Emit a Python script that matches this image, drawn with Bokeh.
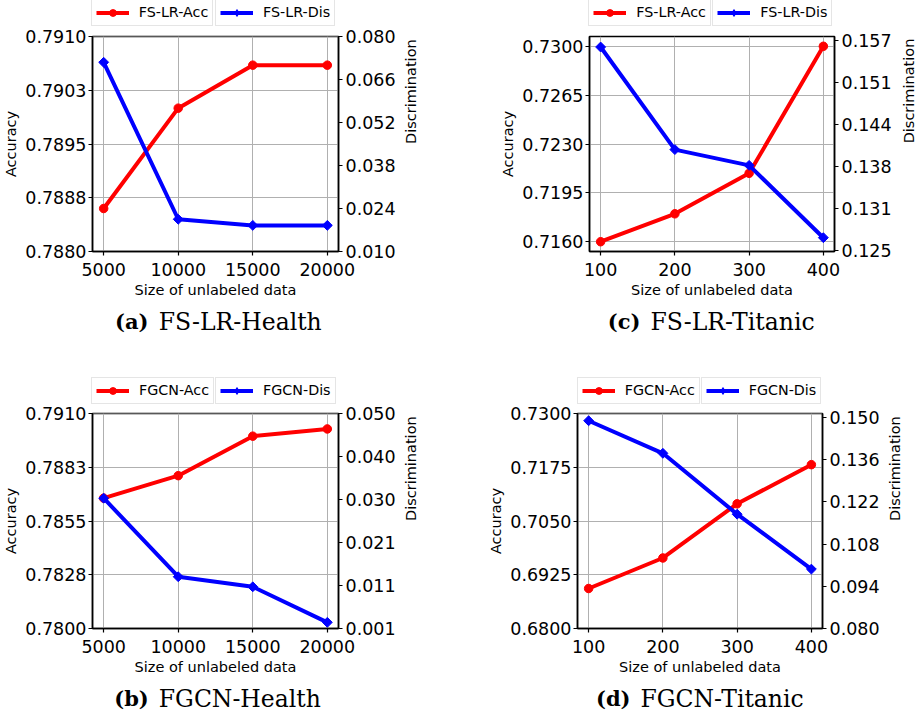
from bokeh.plotting import figure
from bokeh.models import (Range1d, LinearAxis, FixedTicker, CustomJSTickFormatter,
                          Legend, LegendItem, Label)
from bokeh.layouts import column, row
from bokeh.embed import file_html
from bokeh.resources import INLINE
import math

# ---------------- data ----------------
x_health = [5000, 10000, 15000, 20000]
x_titanic = [100, 200, 300, 400]

a_acc = [0.7886, 0.7900, 0.7906, 0.7906]
a_dis = [0.0716, 0.0205, 0.0185, 0.0185]
c_acc = [0.7160, 0.7180, 0.7209, 0.7300]
c_dis = [0.1560, 0.1404, 0.1380, 0.1270]
b_acc = [0.78667, 0.78782, 0.78984, 0.79021]
b_dis = [0.0307, 0.0128, 0.0105, 0.0024]
d_acc = [0.6893, 0.6964, 0.7090, 0.7181]
d_dis = [0.1489, 0.1381, 0.1179, 0.0997]

a_left_ticks = [0.788, 0.78875, 0.7895, 0.79025, 0.791]
a_left_labels = ["0.7880", "0.7888", "0.7895", "0.7903", "0.7910"]
a_right_ticks = [0.010, 0.024, 0.038, 0.052, 0.066, 0.080]
a_right_labels = ["0.010", "0.024", "0.038", "0.052", "0.066", "0.080"]

c_left_ticks = [0.716, 0.7195, 0.723, 0.7265, 0.730]
c_left_labels = ["0.7160", "0.7195", "0.7230", "0.7265", "0.7300"]
c_right_ticks = [0.125, 0.1314, 0.1378, 0.1442, 0.1506, 0.157]
c_right_labels = ["0.125", "0.131", "0.138", "0.144", "0.151", "0.157"]

b_left_ticks = [0.780, 0.78275, 0.7855, 0.78825, 0.791]
b_left_labels = ["0.7800", "0.7828", "0.7855", "0.7883", "0.7910"]
b_right_ticks = [0.001, 0.0108, 0.0206, 0.0304, 0.0402, 0.050]
b_right_labels = ["0.001", "0.011", "0.021", "0.030", "0.040", "0.050"]

d_left_ticks = [0.680, 0.6925, 0.705, 0.7175, 0.730]
d_left_labels = ["0.6800", "0.6925", "0.7050", "0.7175", "0.7300"]
d_right_ticks = [0.080, 0.094, 0.108, 0.122, 0.136, 0.150]
d_right_labels = ["0.080", "0.094", "0.108", "0.122", "0.136", "0.150"]

FONT = "DejaVu Sans"
TICK_FS = "17.5px"
LAB_FS = "14.5px"
RED = "#ff0000"
BLUE = "#0000ff"
W = 458


def fmt(vals, labels):
    return CustomJSTickFormatter(args=dict(vals=vals, labels=labels), code="""
        let best = 0;
        for (let i = 0; i < vals.length; i++) {
            if (Math.abs(vals[i] - tick) < Math.abs(vals[best] - tick)) best = i;
        }
        return labels[best];
    """)


def style_axis(ax):
    ax.axis_line_color = "black"
    ax.axis_line_width = 1.5
    ax.major_tick_in = 0
    ax.major_tick_out = 4
    ax.major_tick_line_width = 1.2
    ax.minor_tick_line_color = None
    ax.major_label_text_font = FONT
    ax.major_label_text_font_size = TICK_FS
    ax.major_label_text_color = "black"
    ax.axis_label_text_font = FONT
    ax.axis_label_text_font_size = LAB_FS
    ax.axis_label_text_font_style = "normal"
    ax.axis_label_text_color = "black"


def blank(h, w=W):
    f = figure(width=w, height=h, output_backend="svg", toolbar_location=None,
               x_range=Range1d(0, 1), y_range=Range1d(0, 1),
               x_axis_location=None, y_axis_location=None,
               min_border=0, min_border_left=0, min_border_right=0,
               min_border_top=0, min_border_bottom=0)
    f.outline_line_color = None
    f.background_fill_color = "white"
    f.border_fill_color = "white"
    f.xgrid.visible = False
    f.ygrid.visible = False
    return f


def add_legends(f, names, xs, acc, dis, xs_pos, y_pos):
    # legend proxies: the series themselves, which fall outside this strip's ranges
    l1 = f.line(xs, acc, line_color=RED, line_width=4)
    m1 = f.scatter(xs, acc, marker="circle", size=8.5, fill_color=RED, line_color=RED)
    l2 = f.line(xs, dis, line_color=BLUE, line_width=4)
    m2 = f.scatter(xs, dis, marker="diamond", size=11,
                   fill_color=BLUE, line_color=BLUE)
    for name, rends, xp in [(names[0], [l1, m1], xs_pos[0]), (names[1], [l2, m2], xs_pos[1])]:
        lg = Legend(items=[LegendItem(label=name, renderers=rends)],
                    location=(xp, y_pos),
                    orientation="horizontal",
                    border_line_color="#cccccc", border_line_width=1,
                    background_fill_color="white", background_fill_alpha=1.0,
                    padding=4, spacing=0, margin=0,
                    label_standoff=10, glyph_width=33, glyph_height=17,
                    label_height=17,
                    label_text_font=FONT, label_text_font_size="14.3px",
                    label_text_color="black")
        f.add_layout(lg, "center")


def add_caption(f, letter, title, gap_l, gap_r, y):
    f.add_layout(Label(x=gap_l, y=y, x_units="screen", y_units="screen", text=letter,
                       text_font="DejaVu Serif", text_font_style="bold",
                       text_font_size="21px", text_align="right",
                       text_baseline="alphabetic", text_color="black"))
    f.add_layout(Label(x=gap_r, y=y, x_units="screen", y_units="screen", text=title,
                       text_font="DejaVu Serif", text_font_size="23.5px",
                       text_align="left", text_baseline="alphabetic",
                       text_color="black"))


def panel(xs, acc, dis, xr, yl, yr, xticks, lt, ll, rt, rl, height, borders,
          width=W, right_label=True):
    left, right, top, bottom = borders
    eps = 1e-9
    p = figure(width=width, height=height, output_backend="svg", toolbar_location=None,
               x_range=Range1d(*xr), y_range=Range1d(yl[0] - eps, yl[1] + eps),
               min_border_left=left, min_border_right=right,
               min_border_top=top, min_border_bottom=bottom)
    p.extra_y_ranges = {"r": Range1d(yr[0] - eps, yr[1] + eps)}
    p.background_fill_color = "white"
    p.border_fill_color = "white"
    p.outline_line_color = "black"
    p.outline_line_width = 1.5

    xt = FixedTicker(ticks=xticks)
    p.xaxis.ticker = xt
    p.xaxis.axis_label = "Size of unlabeled data"
    p.xaxis.major_label_standoff = 7
    p.xaxis.axis_label_standoff = 3
    style_axis(p.xaxis[0])

    lax = p.yaxis[0]
    ltk = FixedTicker(ticks=lt)
    lax.ticker = ltk
    lax.formatter = fmt(lt, ll)
    lax.axis_label = "Accuracy"
    lax.major_label_standoff = 2
    lax.axis_label_standoff = 3
    style_axis(lax)

    rax = LinearAxis(y_range_name="r", ticker=FixedTicker(ticks=rt), formatter=fmt(rt, rl))
    style_axis(rax)
    rax.major_label_standoff = 3
    if right_label:
        rax.axis_label = "Discrimination"
        rax.axis_label_standoff = 12
        if "axis_label_orientation" in rax.properties():
            rax.axis_label_orientation = math.pi / 2
    p.add_layout(rax, "right")

    p.xgrid.ticker = xt
    p.ygrid.ticker = ltk
    for g in (p.xgrid[0], p.ygrid[0]):
        g.grid_line_color = "#b0b0b0"
        g.grid_line_width = 1

    p.line(xs, acc, line_color=RED, line_width=4)
    p.scatter(xs, acc, marker="circle", size=8.5, fill_color=RED, line_color=RED)
    p.line(xs, dis, line_color=BLUE, line_width=4, y_range_name="r")
    p.scatter(xs, dis, marker="square", angle=math.pi / 4, size=7,
              fill_color=BLUE, line_color=BLUE, y_range_name="r")
    return p


# top strip (legends of a / c)
s1a = blank(26)
add_legends(s1a, ("FS-LR-Acc", "FS-LR-Dis"), x_health, a_acc, a_dis, (90.7, 215), 0.5)
s1c = blank(26)
add_legends(s1c, ("FS-LR-Acc", "FS-LR-Dis"), x_titanic, c_acc, c_dis, (130.3, 254.3), 0.5)

pa = panel(x_health, a_acc, a_dis, (4250, 20750), (0.788, 0.791), (0.010, 0.080),
           x_health, a_left_ticks, a_left_labels, a_right_ticks, a_right_labels,
           278, (91, 120, 10, 53))
pc = panel(x_titanic, c_acc, c_dis, (85, 415), (0.7153, 0.7307), (0.1249, 0.1576),
           x_titanic, c_left_ticks, c_left_labels, c_right_ticks, c_right_labels,
           278, (131, 64, 10, 53), width=440, right_label=False)
# separate narrow strip holding the right-axis title of panel (c)
lab_c = blank(278, w=18)
lab_c.add_layout(Label(x=10, y=160.5, x_units="screen", y_units="screen",
                       text="Discrimination", angle=math.pi / 2,
                       text_font=FONT, text_font_size=LAB_FS,
                       text_align="center", text_baseline="middle",
                       text_color="black"))

# middle strip (captions a / c, legends b / d)
s2a = blank(100)
add_caption(s2a, "(a)", "FS-LR-Health", 148, 158.3, 83)
add_legends(s2a, ("FGCN-Acc", "FGCN-Dis"), x_health, b_acc, b_dis, (91, 215), 0.5)
s2c = blank(100)
add_caption(s2c, "(c)", "FS-LR-Titanic", 182, 192, 83)
add_legends(s2c, ("FGCN-Acc", "FGCN-Dis"), x_titanic, d_acc, d_dis, (118.7, 242.7), 0.5)

pb = panel(x_health, b_acc, b_dis, (4250, 20750), (0.780, 0.791), (0.001, 0.050),
           x_health, b_left_ticks, b_left_labels, b_right_ticks, b_right_labels,
           275, (91, 120, 9, 51))
pd_ = panel(x_titanic, d_acc, d_dis, (85, 415), (0.680, 0.730), (0.080, 0.1513),
            x_titanic, d_left_ticks, d_left_labels, d_right_ticks, d_right_labels,
            275, (119, 94, 9, 51))

# bottom strip (captions b / d)
s3b = blank(35)
add_caption(s3b, "(b)", "FGCN-Health", 148.3, 158.3, 16)
s3d = blank(35)
add_caption(s3d, "(d)", "FGCN-Titanic", 172, 182, 16)

layout = column(row(s1a, s1c, spacing=0), row(pa, pc, lab_c, spacing=0),
                row(s2a, s2c, spacing=0), row(pb, pd_, spacing=0),
                row(s3b, s3d, spacing=0), spacing=0)
open("out.html", "w").write(file_html(layout, INLINE))
